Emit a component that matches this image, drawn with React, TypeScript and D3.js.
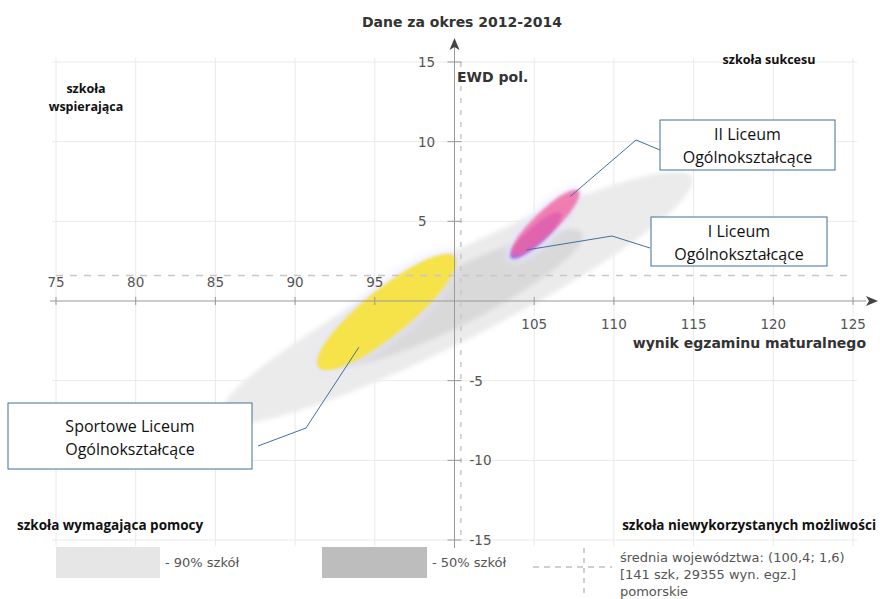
import React from "react";
import * as d3 from "d3";

const xTicks = [75, 80, 85, 90, 95, 105, 110, 115, 120, 125];
const yTicks = [15, 10, 5, -5, -10, -15];
const gridX = [75, 80, 85, 90, 95, 105, 110, 115, 120, 125];
const gridY = [15, 10, 5, -5, -10, -15];
const mean = { x: 100.4, y: 1.6 };

// ellipses: center (data), semi-axes (data units), rotation (deg)
const regionNames = ["p90", "p50"];
const regionCx = [100.1, 100.1];
const regionCy = [0.2, 0.2];
const regionRx = [16.6, 8.9];
const regionRy = [2.65, 1.7];
const regionAngle = [27, 27];

const schoolNames = ["Sportowe Liceum Ogólnokształcące", "I Liceum Ogólnokształcące", "II Liceum Ogólnokształcące"];
const schoolCx = [95.75, 105.1, 105.7];
const schoolCy = [-0.7, 4.1, 4.9];
const schoolRx = [5.5, 2.1, 2.9];
const schoolRy = [1.45, 0.55, 0.72];
const schoolAngle = [39, 42, 44];
const schoolAnchorX = [94.0, 104.5, 107.25];
const schoolAnchorY = [-2.9, 3.2, 6.55];

const W = 883, H = 599;

export default function App() {
  const x = d3.scaleLinear().domain([75, 125]).range([56, 853]);
  const y = d3.scaleLinear().domain([-15, 15]).range([540, 62]);
  const k = x(1) - x(0);

  const colors = ["#f6e24a", "#9a62f2", "#f2609c"];
  const opac = [1, 0.9, 0.78];
  const regionFill = ["#ebebeb", "#d9d9d9"];

  const ell = (cx: number, cy: number, rx: number, ry: number, a: number, props: any, key: any) => (
    <ellipse key={key} cx={x(cx)} cy={y(cy)} rx={rx * k} ry={ry * k}
      transform={`rotate(${-a} ${x(cx)} ${y(cy)})`} {...props} />
  );

  const boxStroke = "#41719c";
  const boxFont = "'Open Sans', 'Noto Sans', sans-serif";
  const quadFont = "'Open Sans', 'Noto Sans', sans-serif";

  // callout boxes (layout)
  const boxes = [
    { x0: 8, y0: 403, w: 244, h: 66, lines: ["Sportowe Liceum", "Ogólnokształcące"], elbow: [306, 428], start: [258, 446], ty: 432 },
    { x0: 651, y0: 217, w: 176, h: 49, lines: ["I Liceum", "Ogólnokształcące"], elbow: [612, 236], start: [650, 248], ty: 237 },
    { x0: 660, y0: 120, w: 175, h: 50, lines: ["II Liceum", "Ogólnokształcące"], elbow: [636, 140], start: [660, 150], ty: 140 },
  ];

  return (
    <svg width={W} height={H} style={{ position: "absolute", left: 0, top: 0, background: "#fff" }}
      fontFamily="'DejaVu Sans', sans-serif">
      <defs>
        <filter id="blurBig" x="-20%" y="-50%" width="140%" height="200%">
          <feGaussianBlur stdDeviation="2" />
        </filter>
        <filter id="blurSmall" x="-30%" y="-60%" width="160%" height="220%">
          <feGaussianBlur stdDeviation="1.4" />
        </filter>
        <filter id="halo" x="-30%" y="-60%" width="160%" height="220%">
          <feGaussianBlur stdDeviation="4" />
        </filter>
      </defs>
      <rect width={W} height={H} fill="#fff" />

      {/* grid */}
      {gridX.map((v) => (
        <line key={"gx" + v} x1={x(v)} x2={x(v)} y1={y(15) - 4} y2={y(-15) + 6} stroke="#eaeaea" strokeWidth={1} />
      ))}
      {gridY.map((v) => (
        <line key={"gy" + v} x1={x(75) - 4} x2={x(125) + 4} y1={y(v)} y2={y(v)} stroke="#eaeaea" strokeWidth={1} />
      ))}

      {/* regions */}
      {regionNames.map((n, i) =>
        ell(regionCx[i], regionCy[i], regionRx[i], regionRy[i], regionAngle[i],
          { fill: regionFill[i], filter: "url(#blurBig)" }, n)
      )}

      {/* school ellipses */}
      {schoolNames.map((n, i) =>
        ell(schoolCx[i], schoolCy[i], schoolRx[i] + 0.25, schoolRy[i] + 0.25, schoolAngle[i],
          { fill: "#e4e4ff", opacity: 0.7, filter: "url(#halo)" }, "h" + n)
      )}
      {schoolNames.map((n, i) =>
        ell(schoolCx[i], schoolCy[i], schoolRx[i], schoolRy[i], schoolAngle[i],
          { fill: colors[i], opacity: opac[i], filter: "url(#blurSmall)" }, n)
      )}

      {/* mean dashed lines */}
      <line x1={x(75)} x2={x(125)} y1={y(mean.y)} y2={y(mean.y)} stroke="#c8c8c8" strokeWidth={1.5} strokeDasharray="7,7" />
      <line x1={x(mean.x)} x2={x(mean.x)} y1={y(15)} y2={y(-15)} stroke="#c8c8c8" strokeWidth={1.5} strokeDasharray="5,7" />

      {/* axes */}
      <line x1={50} x2={866} y1={y(0)} y2={y(0)} stroke="#999" strokeWidth={1} />
      <path d={`M866,${y(0) - 5} L878,${y(0)} L866,${y(0) + 5} L869,${y(0)} Z`} fill="#444" />
      <line x1={x(100)} x2={x(100)} y1={548} y2={44} stroke="#999" strokeWidth={1} />
      <path d={`M${x(100) - 5},50 L${x(100)},38 L${x(100) + 5},50 L${x(100)},47 Z`} fill="#444" />

      {/* ticks */}
      {xTicks.map((v) => (
        <line key={"tx" + v} x1={x(v)} x2={x(v)} y1={y(0) - 4} y2={y(0) + 4} stroke="#999" />
      ))}
      {yTicks.map((v) => (
        <line key={"ty" + v} x1={x(100) - 7} x2={x(100) + 7} y1={y(v)} y2={y(v)} stroke="#999" />
      ))}
      {xTicks.map((v) => (
        <text key={"lx" + v} x={x(v)} y={v < 100 ? y(0) - 14 : y(0) + 28} textAnchor="middle"
          fontSize={13.5} fill="#555">{v}</text>
      ))}
      {yTicks.map((v) => (
        <text key={"ly" + v} x={v > 0 ? 418 : x(100) + 15} y={y(v) + 5} textAnchor="start"
          fontSize={13.5} fill="#555">{v}</text>
      ))}

      {/* titles */}
      <text x={462} y={27} textAnchor="middle" fontSize={14} fontWeight="bold" fill="#333">Dane za okres 2012-2014</text>
      <text x={457} y={82} fontSize={14} fontWeight="bold" fill="#333">EWD pol.</text>
      <text x={866} y={348} textAnchor="end" fontSize={14} fontWeight="bold" fill="#333">wynik egzaminu maturalnego</text>

      {/* quadrant labels */}
      <g fontFamily={quadFont} fontWeight="bold" fill="#111">
        <text x={86} y={93} textAnchor="middle" fontSize={12.5}>szkoła</text>
        <text x={86} y={111} textAnchor="middle" fontSize={12.5}>wspierająca</text>
        <text x={769} y={64} textAnchor="middle" fontSize={12.5}>szkoła sukcesu</text>
        <text x={17} y={530} fontSize={13.5}>szkoła wymagająca pomocy</text>
        <text x={876} y={530} textAnchor="end" fontSize={13.5}>szkoła niewykorzystanych możliwości</text>
      </g>

      {/* legend */}
      <rect x={56} y={547} width={104} height={31} fill="#e6e6e6" />
      <text x={165} y={567} fontSize={13} fill="#555">- 90% szkół</text>
      <rect x={322} y={547} width={105} height={31} fill="#bdbdbd" />
      <text x={432} y={567} fontSize={13} fill="#555">- 50% szkół</text>
      <line x1={533} x2={612} y1={567} y2={567} stroke="#c0c0c0" strokeWidth={1.5} strokeDasharray="6,5" />
      <line x1={584} x2={584} y1={548} y2={594} stroke="#c0c0c0" strokeWidth={1.5} strokeDasharray="5,5" />
      <g fontSize={13} fill="#555">
        <text x={620} y={562}>średnia województwa: (100,4; 1,6)</text>
        <text x={620} y={579}>[141 szk, 29355 wyn. egz.]</text>
        <text x={620} y={596}>pomorskie</text>
      </g>

      {/* callouts */}
      {boxes.map((b, i) => (
        <g key={"b" + i}>
          <polyline
            points={`${b.start[0]},${b.start[1]} ${b.elbow[0]},${b.elbow[1]} ${x(schoolAnchorX[i])},${y(schoolAnchorY[i])}`}
            fill="none" stroke={boxStroke} strokeWidth={1} />
          <rect x={b.x0} y={b.y0} width={b.w} height={b.h} fill="#fff" stroke={boxStroke} strokeWidth={1} />
          {b.lines.map((t, j) => (
            <text key={j} x={b.x0 + b.w / 2} y={b.ty + j * 23} textAnchor="middle"
              fontFamily={boxFont} fontSize={16} fill="#111">{t}</text>
          ))}
        </g>
      ))}
    </svg>
  );
}
